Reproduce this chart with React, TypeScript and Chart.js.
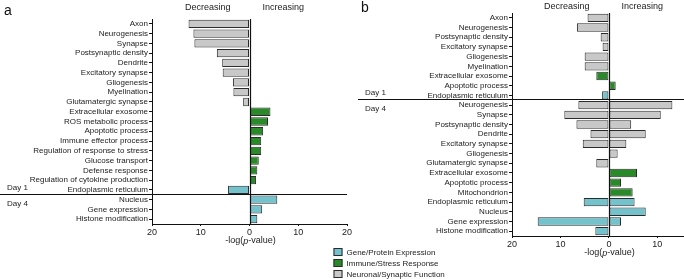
import React, { useEffect, useRef } from 'react';
import { Chart, registerables } from 'chart.js';
Chart.register(...registerables);

const FONT = '"Liberation Sans", Arial, Helvetica, sans-serif';
const W = 684;
const H = 279;

const GROUP_NAMES = ['Gene/Protein Expression', 'Immune/Stress Response', 'Neuronal/Synaptic Function'];
const GROUP_FILL = ['#74c2cc', '#2a8a2a', '#c8c8c8'];
const BORDER = '#2b2b2b';

// Panel a
const aLabels = [
  'Axon', 'Neurogenesis', 'Synapse', 'Postsynaptic density', 'Dendrite', 'Excitatory synapse',
  'Gliogenesis', 'Myelination', 'Glutamatergic synapse', 'Extracellular exosome',
  'ROS metabolic process', 'Apoptotic process', 'Immune effector process',
  'Regulation of response to stress', 'Glucose transport', 'Defense response',
  'Regulation of cytokine production', 'Endoplasmic reticulum', 'Nucleus',
  'Gene expression', 'Histone modification',
];
const aValues = [
  -12.5, -11.5, -11.3, -6.7, -5.6, -5.5, -3.4, -3.3, -1.3,
  4.3, 3.8, 2.8, 2.4, 2.4, 1.9, 1.6, 1.35,
  -4.4, 5.7, 2.6, 1.6,
];
const aGroups = [2, 2, 2, 2, 2, 2, 2, 2, 2, 1, 1, 1, 1, 1, 1, 1, 1, 0, 0, 0, 0];
const aLastDay1 = 17;
const aTicks = [-20, -10, 0, 10, 20];

// Panel b
const bLabels = [
  'Axon', 'Neurogenesis', 'Postsynaptic density', 'Excitatory synapse', 'Gliogenesis',
  'Myelination', 'Extracellular exosome', 'Apoptotic process', 'Endoplasmic reticulum',
  'Neurogenesis', 'Synapse', 'Postsynaptic density', 'Dendrite', 'Excitatory synapse',
  'Gliogenesis', 'Glutamatergic synapse', 'Extracellular exosome', 'Apoptotic process',
  'Mitochondrion', 'Endoplasmic reticulum', 'Nucleus', 'Gene expression', 'Histone modification',
];
const bDecreasing = [
  -4.4, -6.6, -1.7, -1.3, -5.0, -5.0, -2.6, null, -1.4,
  -6.3, -9.2, -6.7, -3.8, -5.4, null, -2.6, null, null, null, -5.2, null, -14.7, -2.8,
];
const bIncreasing = [
  null, null, null, null, null, null, null, 1.4, null,
  13.1, 10.7, 4.6, 7.6, 3.6, 1.8, null, 5.8, 2.5, 4.9, 5.3, 7.6, 2.5, null,
];
const bGroups = [2, 2, 2, 2, 2, 2, 1, 1, 0, 2, 2, 2, 2, 2, 2, 2, 1, 1, 1, 0, 0, 0, 0];
const bLastDay1 = 8;
const bTicks = [-20, -10, 0, 10];

type Decor = {
  lastDay1: number;
  divX0: number;
  divX1: number;
  dayX: number;
  letter: string;
  letterX: number;
  letterY: number;
  headY: number;
  legend?: { x: number; y: number };
};

function makeDecor(d: Decor) {
  return {
    id: 'decor' + d.letter,
    afterDatasetsDraw(chart: any) {
      const ctx = chart.ctx as CanvasRenderingContext2D;
      const xs = chart.scales.x;
      const ys = chart.scales.y;
      const area = chart.chartArea;
      const x0 = Math.round(xs.getPixelForValue(0)) + 0.5;
      ctx.save();
      // zero line
      ctx.strokeStyle = '#111';
      ctx.lineWidth = 1.2;
      ctx.beginPath();
      ctx.moveTo(x0, area.top);
      ctx.lineTo(x0, area.bottom);
      ctx.stroke();
      // day divider
      const yDiv = Math.round((ys.getPixelForValue(d.lastDay1) + ys.getPixelForValue(d.lastDay1 + 1)) / 2 - 1) + 0.5;
      ctx.lineWidth = 1;
      ctx.beginPath();
      ctx.moveTo(d.divX0, yDiv);
      ctx.lineTo(d.divX1, yDiv);
      ctx.stroke();
      ctx.fillStyle = '#222';
      ctx.font = `8px ${FONT}`;
      ctx.textAlign = 'left';
      ctx.textBaseline = 'alphabetic';
      ctx.fillText('Day 1', d.dayX, yDiv - 4.5);
      ctx.fillText('Day 4', d.dayX, yDiv + 11.5);
      // header
      ctx.font = `9px ${FONT}`;
      ctx.textAlign = 'right';
      ctx.fillText('Decreasing', x0 - 20, d.headY);
      ctx.textAlign = 'left';
      ctx.fillText('Increasing', x0 + 12, d.headY);
      // panel letter
      ctx.font = `14px ${FONT}`;
      ctx.fillStyle = '#111';
      ctx.fillText(d.letter, d.letterX, d.letterY);
      // axis title with italic p
      const ty = area.bottom + 17;
      ctx.fillStyle = '#222';
      ctx.textBaseline = 'middle';
      const n = `9px ${FONT}`;
      const it = `italic 9px ${FONT}`;
      ctx.font = n;
      const w1 = ctx.measureText('-log(').width;
      const w3 = ctx.measureText('-value)').width;
      ctx.font = it;
      const w2 = ctx.measureText('p').width;
      let tx = x0 - (w1 + w2 + w3) / 2;
      ctx.textAlign = 'left';
      ctx.font = n;
      ctx.fillText('-log(', tx, ty);
      tx += w1;
      ctx.font = it;
      ctx.fillText('p', tx, ty);
      tx += w2;
      ctx.font = n;
      ctx.fillText('-value)', tx, ty);
      // legend
      if (d.legend) {
        const { x, y } = d.legend;
        GROUP_NAMES.forEach((name, i) => {
          const cy = y + i * 11;
          ctx.fillStyle = GROUP_FILL[i];
          ctx.fillRect(x, cy - 4, 9, 8);
          ctx.strokeStyle = BORDER;
          ctx.lineWidth = 1;
          ctx.strokeRect(x + 0.5, cy - 3.5, 8, 7);
          ctx.fillStyle = '#222';
          ctx.font = `8px ${FONT}`;
          ctx.textBaseline = 'middle';
          ctx.fillText(name, x + 13, cy + 0.5);
        });
      }
      ctx.restore();
    },
  };
}

function xScale(min: number, max: number, ticks: number[]) {
  return {
    min,
    max,
    afterBuildTicks: (s: any) => {
      s.ticks = ticks.map((v) => ({ value: v }));
    },
    afterFit: (s: any) => {
      s.height = 30;
    },
    ticks: {
      callback: (v: any) => String(Math.abs(Number(v))),
      font: { family: FONT, size: 9 },
      color: '#222',
      padding: 1,
      maxRotation: 0,
    },
    grid: { drawOnChartArea: false, tickLength: 2, color: '#111' },
    border: { color: '#111', width: 1 },
  };
}

function yScale(width: number) {
  return {
    afterFit: (s: any) => {
      s.width = width;
    },
    ticks: { autoSkip: false, font: { family: FONT, size: 8 }, color: '#222', padding: 1 },
    grid: { drawOnChartArea: false, tickLength: 3, color: '#111', offset: false },
    border: { color: '#111', width: 1 },
  };
}

export default function App() {
  const refA = useRef<HTMLCanvasElement>(null);
  const refB = useRef<HTMLCanvasElement>(null);

  useEffect(() => {
    const chartA = new Chart(refA.current!, {
      type: 'bar',
      data: {
        labels: aLabels,
        datasets: [
          {
            data: aValues,
            backgroundColor: aGroups.map((g) => GROUP_FILL[g]),
            borderColor: BORDER,
            borderWidth: 1,
            borderSkipped: false,
            barPercentage: 0.85,
            categoryPercentage: 1,
          },
        ],
      },
      options: {
        indexAxis: 'y',
        responsive: false,
        animation: false,
        devicePixelRatio: 1,
        layout: { padding: { left: 0, top: 19, right: W - 347, bottom: 25 } },
        plugins: { legend: { display: false }, tooltip: { enabled: false } },
        scales: { x: xScale(-20, 20, aTicks) as any, y: yScale(152) as any },
      },
      plugins: [
        makeDecor({
          lastDay1: aLastDay1,
          divX0: 0,
          divX1: 347,
          dayX: 7,
          letter: 'a',
          letterX: 4,
          letterY: 15,
          headY: 9.5,
        }),
      ],
    });

    const chartB = new Chart(refB.current!, {
      type: 'bar',
      data: {
        labels: bLabels,
        datasets: [
          {
            data: bDecreasing,
            backgroundColor: bGroups.map((g) => GROUP_FILL[g]),
            borderColor: BORDER,
            borderWidth: 1,
            borderSkipped: false,
            barPercentage: 0.86,
            categoryPercentage: 1,
            grouped: false,
          },
          {
            data: bIncreasing,
            backgroundColor: bGroups.map((g) => GROUP_FILL[g]),
            borderColor: BORDER,
            borderWidth: 1,
            borderSkipped: false,
            barPercentage: 0.86,
            categoryPercentage: 1,
            grouped: false,
          },
        ],
      },
      options: {
        indexAxis: 'y',
        responsive: false,
        animation: false,
        devicePixelRatio: 1,
        layout: { padding: { left: 0, top: 13, right: 0, bottom: 13 } },
        plugins: { legend: { display: false }, tooltip: { enabled: false } },
        scales: { x: xScale(-20, 15.5, bTicks) as any, y: yScale(512) as any },
      },
      plugins: [
        makeDecor({
          lastDay1: bLastDay1,
          divX0: 358,
          divX1: W,
          dayX: 365,
          letter: 'b',
          letterX: 361,
          letterY: 12,
          headY: 8.5,
          legend: { x: 333.5, y: 252 },
        }),
      ],
    });

    return () => {
      chartA.destroy();
      chartB.destroy();
    };
  }, []);

  return (
    <div style={{ position: 'absolute', left: 0, top: 0, width: W, height: H, background: '#fff', overflow: 'hidden' }}>
      <canvas ref={refA} width={W} height={H} style={{ position: 'absolute', left: 0, top: 0 }} />
      <canvas ref={refB} width={W} height={H} style={{ position: 'absolute', left: 0, top: 0 }} />
    </div>
  );
}
